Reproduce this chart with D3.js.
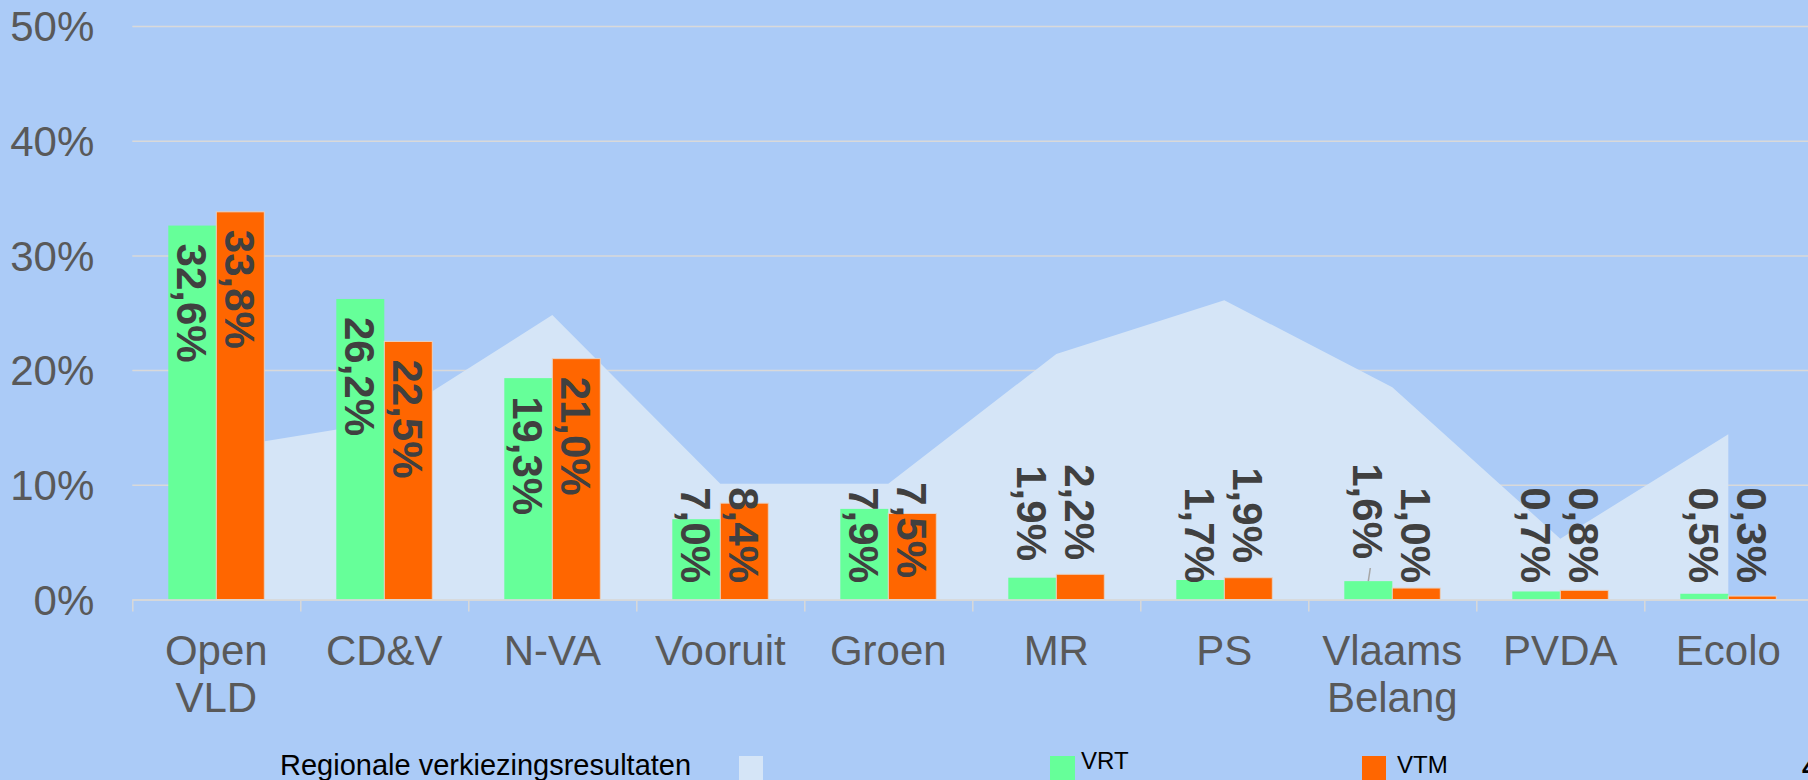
<!DOCTYPE html>
<html>
<head>
<meta charset="utf-8">
<script src="https://cdn.jsdelivr.net/npm/d3@7"></script>
<style>
  html, body { margin: 0; padding: 0; background: #abcbf7; }
  svg { display: block; font-family: "Liberation Sans", Arial, sans-serif; }
</style>
</head>
<body>
<svg id="chart"></svg>
<script>
// data
var categories = ["Open VLD", "CD&V", "N-VA", "Vooruit", "Groen", "MR", "PS", "Vlaams Belang", "PVDA", "Ecolo"];
var regional = [13.1, 15.5, 24.8, 10.1, 10.1, 21.4, 26.1, 18.5, 5.3, 14.4];
var vrt = [32.6, 26.2, 19.3, 7.0, 7.9, 1.9, 1.7, 1.6, 0.7, 0.5];
var vtm = [33.8, 22.5, 21.0, 8.4, 7.5, 2.2, 1.9, 1.0, 0.8, 0.3];
var yTicks = [0, 10, 20, 30, 40, 50];
var seriesNames = ["VRT", "VTM"];

// layout
var W = 1808, H = 780;
var plotLeft = 132.3, bandW = 168, plotTop = 26, plotBottom = 599.5;
var colors = { regional: "#d5e5f7", VRT: "#66ff99", VTM: "#ff6600" };
var grid = "#d9d9d9";
// labels that were pulled up by hand in the original (px)
var labelLift = { "Groen|VTM": 5, "MR|VRT": 22, "MR|VTM": 23, "PS|VTM": 20, "Vlaams Belang|VRT": 24 };
var leaderLines = ["Vlaams Belang|VRT"];

var svg = d3.select("#chart").attr("width", W).attr("height", H);
svg.append("rect").attr("width", W).attr("height", H).attr("fill", "#abcbf7");

var x = d3.scaleBand().domain(categories).range([plotLeft, plotLeft + bandW * categories.length]);
var xs = d3.scaleBand().domain(seriesNames).range([36, 132]);
var xIdx = d3.scaleLinear().domain([0, categories.length]).range(x.range());
var y = d3.scaleLinear().domain([0, 50]).range([plotBottom, plotTop]);

// y grid + labels
var yAxis = svg.append("g")
  .attr("transform", "translate(" + plotLeft + ",0)")
  .call(d3.axisLeft(y).tickValues(yTicks).tickSize(-(W - plotLeft)).tickPadding(38).tickFormat(function (d) { return d + "%"; }));
yAxis.select(".domain").remove();
yAxis.selectAll("line").attr("stroke", grid).attr("stroke-width", 1.5);
yAxis.selectAll("text").attr("fill", "#595959").style("font-size", "42px").attr("dy", "0.35em");

// area
var area = d3.area()
  .x(function (d, i) { return x(categories[i]) + bandW / 2; })
  .y0(y(0))
  .y1(function (d) { return y(d); });
svg.append("path").datum(regional).attr("d", area).attr("fill", colors.regional);

// bars
var rows = [];
categories.forEach(function (c, i) {
  rows.push({ cat: c, s: "VRT", v: vrt[i] });
  rows.push({ cat: c, s: "VTM", v: vtm[i] });
});

svg.selectAll(".bar")
  .data(rows)
  .enter()
  .append("rect")
  .attr("class", "bar")
  .attr("x", function (d) { return x(d.cat) + xs(d.s); })
  .attr("y", function (d) { return y(d.v); })
  .attr("width", xs.bandwidth())
  .attr("height", function (d) { return y(0) - y(d.v); })
  .attr("fill", function (d) { return colors[d.s]; })
  .attr("stroke", function (d) { return d.s == "VTM" ? "#e6d2c4" : "none"; })
  .attr("stroke-width", 1);

// x axis line + ticks at band edges
var xAxis = svg.append("g")
  .attr("transform", "translate(0," + plotBottom + ")")
  .call(d3.axisBottom(xIdx).tickValues(d3.range(categories.length + 1)).tickSize(12).tickSizeOuter(0).tickFormat(""));
xAxis.select(".domain").attr("stroke", grid).attr("stroke-width", 1.5);
xAxis.selectAll("line").attr("stroke", grid).attr("stroke-width", 1.5);

// category labels
var catText = svg.selectAll(".cat")
  .data(categories)
  .enter()
  .append("text")
  .attr("class", "cat")
  .attr("x", function (d) { return x(d) + bandW / 2; })
  .attr("y", 665)
  .attr("text-anchor", "middle")
  .attr("fill", "#595959")
  .style("font-size", "42px");
catText.each(function (d) {
  var parts = d == "Open VLD" ? ["Open", "VLD"] : d == "Vlaams Belang" ? ["Vlaams", "Belang"] : [d];
  var t = d3.select(this);
  parts.forEach(function (p, i) {
    t.append("tspan").attr("x", x(d) + bandW / 2).attr("dy", i == 0 ? 0 : 46.5).text(p);
  });
});

// value labels (rotated)
var fmt = function (v) { return v.toFixed(1).replace(".", ",") + "%"; };
var labelEnd = function (d) { return plotBottom - 16.5 - (labelLift[d.cat + "|" + d.s] || 0); };
svg.selectAll(".val")
  .data(rows)
  .enter()
  .append("text")
  .attr("class", "val")
  .attr("transform", function (d) {
    var cx = x(d.cat) + xs(d.s) + xs.bandwidth() / 2;
    var ty = d.v >= 15 ? y(d.v) + 18 : labelEnd(d);
    return "translate(" + cx + "," + ty + ") rotate(90)";
  })
  .attr("text-anchor", function (d) { return d.v >= 15 ? "start" : "end"; })
  .attr("dy", "0.36em")
  .attr("fill", "#404040")
  .style("font-size", "42px")
  .style("font-weight", "bold")
  .text(function (d) { return fmt(d.v); });

svg.selectAll(".leader")
  .data(rows.filter(function (d) { return leaderLines.indexOf(d.cat + "|" + d.s) >= 0; }))
  .enter()
  .append("line")
  .attr("x1", function (d) { return x(d.cat) + xs(d.s) + xs.bandwidth() / 2 + 2; })
  .attr("y1", function (d) { return labelEnd(d) + 9; })
  .attr("x2", function (d) { return x(d.cat) + xs(d.s) + xs.bandwidth() / 2; })
  .attr("y2", function (d) { return y(d.v); })
  .attr("stroke", "#a6a6a6")
  .attr("stroke-width", 1.5);

// legend
var legend = [
  { name: "Regionale verkiezingsresultaten", color: colors.regional, tx: 280, ty: 775, size: 29, sx: 739, sw: 24 },
  { name: "VRT", color: colors.VRT, tx: 1081, ty: 769, size: 24, sx: 1050, sw: 25 },
  { name: "VTM", color: colors.VTM, tx: 1397, ty: 773, size: 24, sx: 1362, sw: 24 }
];
legend.forEach(function (l) {
  svg.append("rect").attr("x", l.sx).attr("y", 756).attr("width", l.sw).attr("height", 30).attr("fill", l.color);
  svg.append("text").attr("x", l.tx).attr("y", l.ty).attr("fill", "#000")
    .style("font-size", l.size + "px").text(l.name);
});

svg.append("text").attr("x", 1802).attr("y", 777).attr("fill", "#000")
  .style("font-size", "28px").style("font-weight", "bold").text("4");
</script>
</body>
</html>
